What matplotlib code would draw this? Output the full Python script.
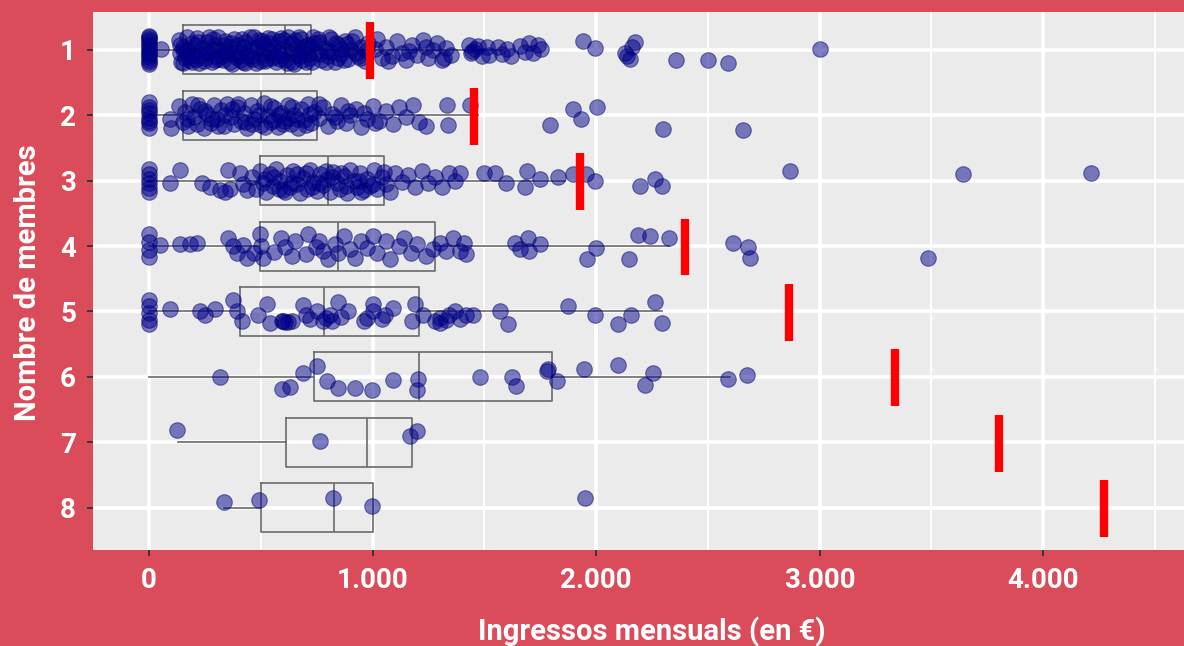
import matplotlib
matplotlib.use("Agg")
import matplotlib.pyplot as plt

# ---------------- data ----------------
groups = [1, 2, 3, 4, 5, 6, 7, 8]
group_labels = ["1", "2", "3", "4", "5", "6", "7", "8"]
x_ticks = [0, 1000, 2000, 3000, 4000]
x_tick_labels = ["0", "1.000", "2.000", "3.000", "4.000"]

# boxplot statistics
box_q1 = [150, 150, 497, 497, 407, 738, 613, 501]
box_med = [610, 500, 800, 845, 783, 1208, 975, 828]
box_q3 = [725, 750, 1052, 1280, 1208, 1803, 1177, 1002]
box_whislo = [0, 0, 0, 0, 0, 0, 130, 336]
box_whishi = [1580, 1470, 1860, 2327, 2295, 2600, 1177, 1002]

# poverty threshold per household size
threshold = [990, 1455, 1930, 2400, 2865, 3340, 3805, 4275]

# individual observations: (income, vertical jitter)
g1 = [(0, -0.20), (0, -0.13), (0, -0.06), (0, 0.01), (0, 0.08), (0, 0.15), (0, 0.21), (0, -0.17), (0, 0.11), (0, -0.09),
      (0, -0.02), (0, 0.05), (0, 0.18), (0, -0.22),
      (55, -0.02),
      (135, -0.15), (140, 0.05), (145, 0.18), (150, -0.05), (160, 0.12), (170, -0.19), (175, 0.0), (185, 0.15), (190, -0.10),
      (200, 0.08), (215, -0.18), (225, 0.20), (235, -0.03), (250, 0.13), (260, -0.12), (270, 0.04), (280, 0.19), (290, -0.08), (300, 0.10),
      (310, -0.20), (320, 0.00), (330, 0.16), (340, -0.14), (350, 0.07), (360, -0.04), (370, 0.21), (380, -0.17), (390, 0.11), (400, -0.07),
      (410, 0.03), (420, 0.18), (430, -0.12), (440, 0.09), (450, -0.20), (460, 0.14), (470, -0.02), (480, 0.20), (490, -0.15), (500, 0.06),
      (510, -0.09), (520, 0.17), (530, -0.18), (540, 0.02), (550, 0.12), (560, -0.06), (570, 0.19), (580, -0.13), (590, 0.08), (600, -0.01),
      (610, 0.15), (620, -0.19), (630, 0.05), (640, -0.10), (650, 0.21), (660, -0.04), (670, 0.11), (680, -0.16), (690, 0.01), (700, 0.18),
      (710, -0.08), (720, 0.13), (735, -0.20), (745, 0.04), (760, -0.12), (770, 0.16), (785, -0.03), (800, 0.09), (815, -0.17), (830, 0.19),
      (845, -0.07), (860, 0.06), (875, -0.14), (890, 0.14), (905, 0.00), (920, -0.19), (935, 0.10), (950, -0.05), (965, 0.17), (980, -0.11),
      (165, 0.02), (205, -0.08), (245, 0.17), (285, -0.16), (325, 0.09), (365, -0.11), (405, 0.16), (445, 0.01), (485, -0.05), (525, 0.14),
      (565, 0.10), (605, -0.15), (645, 0.03), (685, 0.16), (725, -0.06), (765, 0.07), (805, -0.19), (845, 0.12), (885, -0.09), (925, 0.05),
      (190, 0.19), (310, 0.14), (430, 0.20), (550, -0.17), (670, -0.20), (790, 0.19), (640, 0.18), (520, -0.02), (400, 0.10), (280, -0.01),
      (140, -0.08), (180, 0.09), (220, -0.12), (255, 0.03), (295, 0.16), (335, -0.07), (375, 0.04), (415, -0.16), (455, 0.10), (495, 0.17),
      (535, -0.10), (575, 0.04), (615, 0.20), (655, -0.15), (695, -0.04), (730, 0.19), (755, -0.16), (795, 0.01), (835, -0.10), (870, 0.16),
      (910, -0.13), (945, 0.12), (975, 0.00), (150, 0.20), (230, 0.08), (360, 0.19), (470, -0.19), (590, -0.18), (710, 0.07), (820, 0.03),
      (150, 0.00), (210, 0.14), (270, -0.19), (345, 0.02), (425, -0.05), (505, -0.13), (585, 0.14), (665, 0.08), (740, -0.11), (860, -0.02),
      (1040, 0.12), (1060, -0.05), (1085, 0.10), (1110, -0.14), (1130, 0.04), (1150, 0.15), (1175, -0.08), (1200, 0.08), (1225, -0.15),
      (1250, 0.13), (1270, 0.00), (1290, -0.10), (1310, 0.16), (1330, -0.03), (1350, 0.08), (1445, 0.02), (1470, -0.06),
      (1010, -0.02), (1070, 0.17), (1165, 0.02), (1240, -0.05), (1320, 0.12), (1020, -0.16),
      (1430, -0.08), (1440, 0.05), (1460, -0.02), (1490, 0.10), (1510, -0.04), (1520, 0.08), (1560, -0.05), (1580, 0.06), (1600, -0.02),
      (1620, 0.09), (1660, -0.06), (1680, 0.03), (1700, -0.10), (1720, 0.04), (1740, -0.08), (1755, -0.02),
      (1940, -0.13), (1995, -0.03), (2130, 0.05), (2140, 0.10), (2150, 0.14), (2160, -0.05), (2175, -0.12),
      (2360, 0.15), (2500, 0.15), (2590, 0.20), (3000, -0.01)]

g2 = [(0, -0.20), (0, -0.12), (0, -0.04), (0, 0.04), (0, 0.12), (0, 0.20), (0, -0.08), (0, 0.08),
      (94, 0.05), (100, 0.19), (135, -0.14), (150, 0.10), (160, -0.05), (175, 0.17), (190, -0.17), (200, 0.02), (215, 0.13), (230, -0.10),
      (245, 0.20), (260, -0.02), (275, 0.12), (290, -0.16), (305, 0.06), (320, -0.08), (335, 0.17), (350, -0.18), (365, 0.03), (380, 0.14),
      (395, -0.12), (410, 0.08), (425, -0.03), (440, 0.19), (455, -0.15), (470, 0.05), (485, -0.07), (500, 0.15), (515, -0.19), (530, 0.01),
      (545, 0.11), (560, -0.11), (575, 0.18), (590, -0.04), (605, 0.09), (620, -0.16), (635, 0.14), (650, -0.01), (665, 0.20), (680, -0.09),
      (695, 0.07), (710, -0.17), (725, 0.12), (740, -0.05), (760, 0.04), (780, -0.13), (800, 0.16), (820, -0.02), (840, 0.09), (860, -0.15),
      (880, 0.12), (900, 0.00), (925, -0.10), (950, 0.18), (975, 0.05), (1000, -0.14), (1030, 0.08), (1060, -0.06), (1090, 0.14),
      (1120, -0.12), (1150, 0.03), (1180, -0.16), (1210, 0.10), (1240, 0.16), (1335, -0.15), (1338, 0.15), (1436, -0.15),
      (170, 0.05), (220, -0.15), (280, 0.06), (340, 0.00), (400, -0.17), (460, 0.14), (520, 0.18), (580, 0.00), (640, -0.12),
      (700, 0.15), (560, 0.07), (620, 0.04),
      (250, -0.06), (310, 0.16), (370, -0.10), (430, 0.10), (490, 0.00), (545, -0.14), (600, 0.13), (660, 0.06), (720, -0.02),
      (760, -0.18), (830, 0.02), (890, -0.07), (960, -0.03), (1010, 0.12),
      (1794, 0.15), (1897, -0.10), (1933, 0.06), (2004, -0.12), (2300, 0.21), (2658, 0.23)]

g3 = [(0, -0.18), (0, -0.10), (0, -0.03), (0, 0.04), (0, 0.11), (0, 0.17),
      (94, 0.03), (139, -0.17), (237, 0.03), (273, 0.10), (318, 0.14), (340, 0.18), (362, 0.12), (353, -0.16), (407, -0.12), (420, 0.05),
      (440, 0.15), (460, -0.05), (480, 0.12), (495, -0.15), (510, 0.03), (525, 0.18), (540, -0.10), (555, 0.08), (570, -0.18), (585, 0.00),
      (600, 0.14), (615, -0.08), (630, 0.10), (645, -0.15), (660, 0.05), (675, 0.19), (690, -0.04), (705, 0.12), (720, -0.17), (735, 0.02),
      (750, 0.16), (765, -0.10), (780, 0.07), (795, -0.02), (810, 0.17), (825, -0.14), (840, 0.04), (855, 0.12), (870, -0.07), (885, 0.19),
      (900, -0.16), (915, 0.00), (930, 0.10), (945, -0.11), (960, 0.15), (975, -0.03), (990, 0.08), (1005, -0.17), (1020, 0.13),
      (1040, -0.06), (1060, 0.05), (1080, 0.18), (1100, -0.12), (1130, 0.02), (1160, -0.08), (1190, 0.10), (1220, -0.15), (1250, 0.04),
      (1280, -0.05), (1310, 0.09), (1340, -0.12), (1370, 0.00),
      (520, -0.03), (580, 0.12), (640, 0.03), (700, -0.12), (760, 0.04), (820, -0.05), (880, 0.08), (940, 0.00), (1000, 0.05),
      (560, -0.06), (660, -0.10), (860, -0.12), (610, 0.18), (730, 0.10), (790, -0.15), (950, 0.17), (1050, -0.14),
      (1391, -0.12), (1499, -0.12), (1548, -0.12), (1595, 0.03), (1691, -0.15), (1682, 0.10), (1749, -0.03), (1828, -0.05),
      (1895, -0.10), (1954, -0.10), (1996, 0.00), (2197, 0.08), (2264, -0.02), (2293, 0.08), (2866, -0.15), (3643, -0.10), (4215, -0.12)]

g4 = [(0, -0.18), (0, -0.06), (0, 0.06), (0, 0.17),
      (50, -0.02), (139, -0.03), (185, -0.03), (215, -0.05),
      (353, -0.12), (375, 0.00), (395, 0.10), (420, -0.02), (440, 0.18), (470, 0.10), (495, -0.18), (500, 0.00), (510, 0.18),
      (560, 0.09), (590, -0.12), (610, 0.02), (640, 0.16), (655, -0.08), (700, 0.12), (710, -0.18), (745, 0.02), (760, -0.08),
      (780, 0.08), (800, 0.20), (830, -0.03), (845, 0.10), (870, -0.15), (900, 0.05), (920, 0.18), (950, -0.08), (975, 0.03),
      (1000, -0.15), (1020, 0.10), (1060, -0.08), (1080, 0.20), (1120, 0.00), (1140, -0.12), (1170, 0.10), (1200, -0.03),
      (1240, 0.15), (1270, 0.04), (1300, -0.05), (1330, 0.08), (1360, -0.12), (1390, 0.07), (1420, 0.12), (1410, -0.05),
      (1638, -0.05), (1660, 0.05), (1696, -0.12), (1700, 0.08), (1749, -0.03), (1958, 0.20), (2000, 0.03), (2148, 0.20),
      (2188, -0.17), (2242, -0.15), (2327, -0.12), (2613, -0.05), (2680, 0.02), (2689, 0.18), (3485, 0.18)]

g5 = [(0, -0.18), (0, -0.08), (0, 0.03), (0, 0.13), (0, 0.20),
      (94, -0.03), (228, 0.00), (250, 0.05), (295, -0.03), (376, -0.18), (395, 0.00), (416, 0.15), (488, 0.05), (528, -0.12),
      (540, 0.18), (595, 0.14), (610, 0.16), (640, 0.14), (689, -0.10), (752, 0.00), (779, 0.15), (810, 0.05), (846, -0.15),
      (890, 0.00), (975, 0.10), (1002, -0.12), (1056, 0.05), (1092, -0.05), (1177, 0.14), (1190, -0.12), (1226, 0.05),
      (1302, 0.10), (1340, 0.05), (1370, 0.00), (1391, 0.12), (1450, 0.05),
      (600, 0.15), (620, 0.16), (790, 0.10), (820, 0.15), (860, 0.08), (960, 0.15), (1000, 0.00), (1040, 0.12), (1280, 0.15),
      (1300, 0.17), (1330, 0.13), (1420, 0.05), (700, 0.05), (720, 0.12),
      (1570, 0.00), (1606, 0.20), (1875, -0.08), (1996, 0.05), (2098, 0.20), (2157, 0.05), (2264, -0.15), (2295, 0.17)]

g6 = [(318, 0.00), (595, 0.18), (631, 0.16), (689, -0.05), (752, -0.17), (796, 0.06), (846, 0.17), (922, 0.17), (998, 0.20),
      (1092, 0.05), (1204, 0.03), (1199, 0.20), (1481, 0.00), (1624, 0.00), (1642, 0.14), (1781, -0.09), (1785, -0.12),
      (1826, 0.06), (1946, -0.12), (2098, -0.18), (2219, 0.12), (2255, -0.06), (2591, 0.03), (2676, -0.03)]

g7 = [(125, -0.18), (765, -0.02), (1168, -0.09), (1199, -0.17)]

g8 = [(336, -0.08), (492, -0.12), (823, -0.14), (998, -0.03), (1951, -0.14)]

points = [g1, g2, g3, g4, g5, g6, g7, g8]

# ---------------- style ----------------
BG = "#DB4C5A"
PANEL = "#EBEBEB"
FONT = ["Roboto", "DejaVu Sans"]

plt.rcParams["font.family"] = FONT

fig = plt.figure(figsize=(11.84, 6.46), dpi=100, facecolor=BG)
ax = fig.add_axes([93 / 1184, 1 - 550 / 646, 1 - 93 / 1184, 538 / 646])
ax.set_facecolor(PANEL)

# grid
for v in [500, 1500, 2500, 3500, 4500]:
    ax.axvline(v, color="white", lw=1.3, zorder=0)
for v in x_ticks:
    ax.axvline(v, color="white", lw=2.6, zorder=0)
for g in groups:
    ax.axhline(g, color="white", lw=2.6, zorder=0)

# boxplots
stats = []
for i, g in enumerate(groups):
    stats.append(dict(med=box_med[i], q1=box_q1[i], q3=box_q3[i],
                      whislo=box_whislo[i], whishi=box_whishi[i], fliers=[]))
ax.bxp(stats, positions=groups, widths=0.75, vert=False, showcaps=False,
       showfliers=False, patch_artist=False,
       boxprops=dict(color="#6a6a6a", lw=1.2),
       medianprops=dict(color="#6a6a6a", lw=1.2),
       whiskerprops=dict(color="#6a6a6a", lw=1.2),
       manage_ticks=False, zorder=1)

# jittered points
for g, pts in zip(groups, points):
    xs = [p[0] for p in pts]
    ys = [g + p[1] for p in pts]
    ax.scatter(xs, ys, s=125, facecolor="#00008B", edgecolor="#00006A",
               linewidths=0.8, alpha=0.5, zorder=2)

# threshold segments
for g, t in zip(groups, threshold):
    ax.plot([t, t], [g - 0.42, g + 0.45], color="#FF0000", lw=6,
            solid_capstyle="butt", zorder=3)

ax.set_xlim(-251, 4631)
ax.set_ylim(8.65, 0.42)

ax.set_xticks(x_ticks)
ax.set_xticklabels(x_tick_labels)
ax.set_yticks(groups)
ax.set_yticklabels(group_labels)
ax.tick_params(axis="both", colors="#333333", length=4, width=1.3,
               labelcolor="white", labelsize=20)
ax.tick_params(axis="x", pad=8)
ax.tick_params(axis="y", pad=14)
for lab in ax.get_xticklabels() + ax.get_yticklabels():
    lab.set_fontweight("bold")
for lab in ax.get_yticklabels():
    lab.set_horizontalalignment("center")
for s in ax.spines.values():
    s.set_visible(False)

fig.text(652 / 1184, 1 - 632 / 646, "Ingressos mensuals (en €)", ha="center",
         va="center", color="white", fontsize=21, fontweight="bold")
fig.text(28 / 1184, 1 - 283 / 646, "Nombre de membres", ha="center",
         va="center", rotation=90, color="white", fontsize=21,
         fontweight="bold")

fig.savefig("out.png", dpi=100, facecolor=BG)
